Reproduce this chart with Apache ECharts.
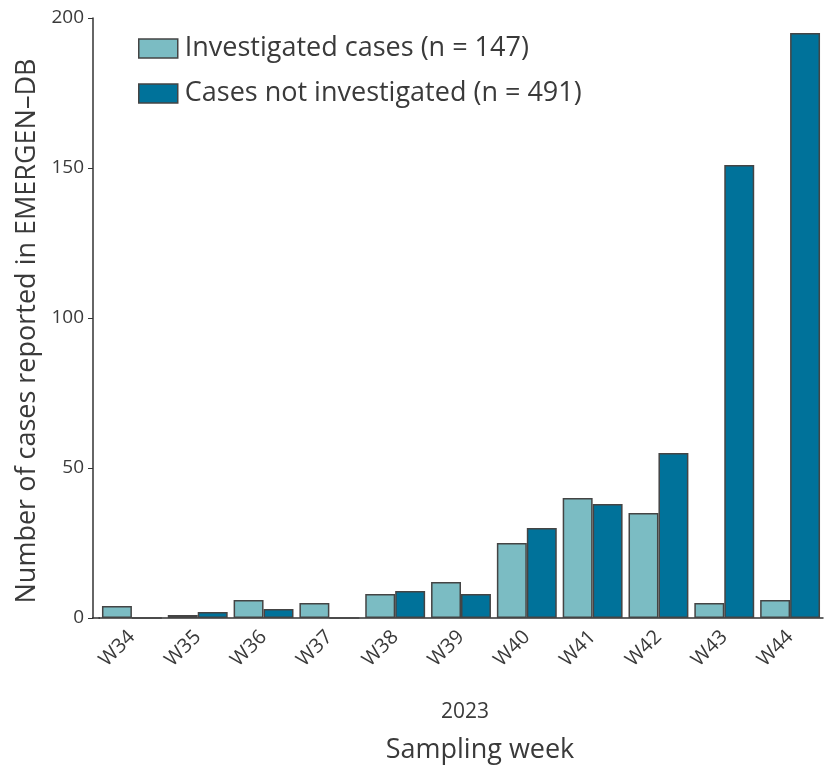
<!DOCTYPE html>
<html>
<head>
<meta charset="utf-8">
<script src="https://cdn.jsdelivr.net/npm/echarts@6/dist/echarts.min.js"></script>
<style>html,body{margin:0;padding:0;background:#fff}#c{width:824px;height:769px}</style>
</head>
<body>
<div id="c"></div>
<script>
const weeks = ['W34','W35','W36','W37','W38','W39','W40','W41','W42','W43','W44'];
const investigated = [4, 1, 6, 5, 8, 12, 25, 40, 35, 5, 6];
const notInvestigated = [0, 2, 3, 0, 9, 8, 30, 38, 55, 151, 195];
const yTicks = [0, 50, 100, 150, 200];
const seriesNames = ['Investigated cases (n = 147)', 'Cases not investigated (n = 491)'];
const yTitle = 'Number of cases reported in EMERGEN\u2013DB';
const xTitle = 'Sampling week';
const yearLabel = '2023';

const FONT = '"Open Sans", "Noto Sans", sans-serif';
const TXT = '#3a3a3a';
const chart = echarts.init(document.getElementById('c'), null, {renderer: 'canvas'});
chart.setOption({
  animation: false,
  textStyle: {fontFamily: FONT, color: TXT},
  grid: {left: 99, right: 1, top: 18, bottom: 151},
  legend: {
    left: 133, top: 30, orient: 'vertical', itemWidth: 39, itemHeight: 19, itemGap: 18,
    icon: 'rect',
    itemStyle: {borderColor: '#444', borderWidth: 1.5},
    textStyle: {fontSize: 27, color: TXT, fontFamily: FONT, padding: [0, 0, 0, 2]},
    data: seriesNames
  },
  xAxis: {
    type: 'category', data: weeks,
    axisLine: {lineStyle: {color: '#333', width: 1.5}},
    axisTick: {alignWithLabel: true, length: 3, lineStyle: {color: '#333', width: 2}},
    axisLabel: {rotate: 45, fontSize: 20, color: TXT, margin: 16, fontFamily: FONT}
  },
  yAxis: {
    type: 'value', min: 0, max: 200, interval: 50, offset: 6,
    axisLine: {show: true, lineStyle: {color: '#333', width: 1.5}},
    axisTick: {show: true, length: 5, lineStyle: {color: '#333'}},
    splitLine: {show: false},
    axisLabel: {fontSize: 19, color: TXT, margin: 9, fontFamily: FONT,
      formatter: v => yTicks.includes(v) ? String(v) : ''}
  },
  graphic: [
    {type: 'line', shape: {x1: 92, y1: 618, x2: 100, y2: 618}, style: {stroke: '#333', lineWidth: 1.5}},
    {type: 'text', x: 465, y: 712,
     style: {text: yearLabel, fontSize: 21, fill: TXT, fontFamily: FONT, align: 'center', verticalAlign: 'middle'}},
    {type: 'text', x: 480, y: 750,
     style: {text: xTitle, fontSize: 27, fill: TXT, fontFamily: FONT, align: 'center', verticalAlign: 'middle'}},
    {type: 'text', x: 27, y: 331, rotation: Math.PI / 2,
     style: {text: yTitle, fontSize: 27, fill: TXT, fontFamily: FONT, align: 'center', verticalAlign: 'middle'}}
  ],
  series: [
    {name: seriesNames[0], type: 'bar', data: investigated, barGap: '0%', barCategoryGap: '9%',
     itemStyle: {color: '#7bbcc3', borderColor: '#444', borderWidth: 1.5}},
    {name: seriesNames[1], type: 'bar', data: notInvestigated,
     itemStyle: {color: '#00729a', borderColor: '#444', borderWidth: 1.5}}
  ]
});
</script>
</body>
</html>
